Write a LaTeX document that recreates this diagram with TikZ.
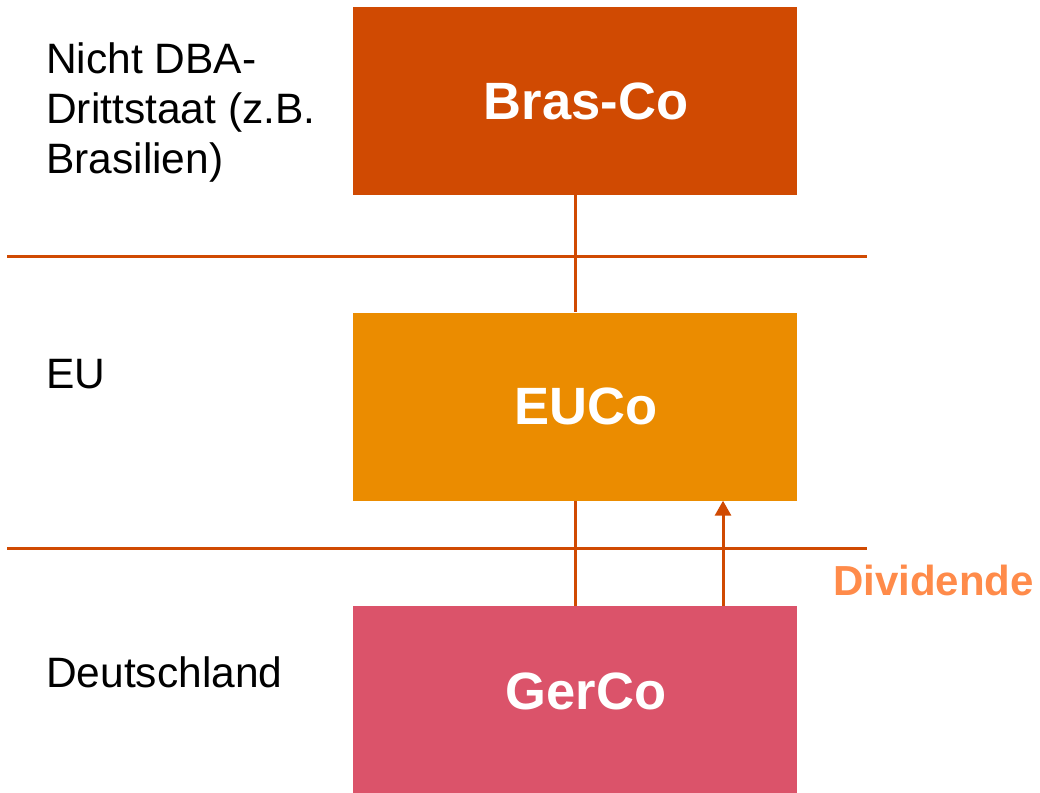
\documentclass[tikz,border=0pt]{standalone}
\usepackage{fontspec}
\setmainfont{Liberation Sans}
\usepackage{xcolor}
\usetikzlibrary{positioning}
\usetikzlibrary{arrows.meta}

\definecolor{brascol}{HTML}{D04A02}
\definecolor{eucol}{HTML}{EB8C00}
\definecolor{gercol}{HTML}{DB536A}
\definecolor{divcol}{HTML}{FF8B4A}

\begin{document}
\begin{tikzpicture}[x=1pt,y=-1pt]
\tikzset{
  firm/.style={minimum width=444pt,minimum height=188pt,inner sep=0pt,
    text=white,font=\fontsize{52.5}{60}\selectfont\bfseries,
    execute at begin node=\hspace*{22pt}},
  country/.style={inner sep=0pt,align=left,font=\fontsize{42.5}{50}\selectfont},
  link/.style={draw=brascol,line width=3pt}
}
\useasboundingbox (0,0) rectangle (1040,792);

% companies
\node[firm,fill=brascol] (brasco) at (575,101) {Bras-Co};
\node[firm,fill=eucol] (euco) at (575,406.5) {EUCo};
\node[firm,fill=gercol,text depth=18pt] (gerco) at (575,700) {GerCo};

% country bands
\draw[link] (7,256) -- (867,256);
\draw[link] (7,548) -- (867,548);

\node[country,anchor=north west] (drittstaat) at (46,43) {Nicht DBA-\\Drittstaat (z.B.\\Brasilien)};
\node[country,anchor=base west] (eu) at (46,388) {EU};
\node[country,anchor=base west] (de) at (46,687) {Deutschland};

% holdings
\draw[link] (brasco.south) -- (euco.north);
\draw[link] (euco.south) -- (gerco.north);

% dividend flow
\coordinate (divfoot) at (723,606);
\draw[link,-{Triangle[width=16pt,length=15pt]}] (divfoot) -- (divfoot |- euco.south);
\node[anchor=base west,inner sep=0pt,text=divcol,font=\fontsize{42}{50}\selectfont\bfseries] (dividende) at (833,595) {Dividende};

\end{tikzpicture}
\end{document}
